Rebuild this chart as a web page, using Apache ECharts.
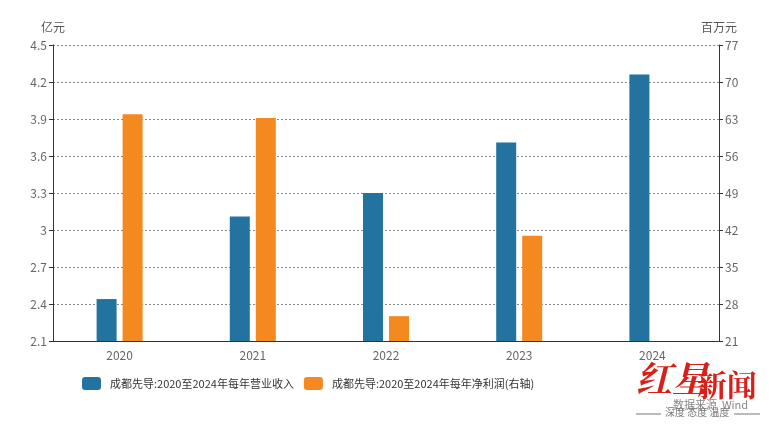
<!DOCTYPE html>
<html>
<head>
<meta charset="utf-8">
<script src="https://cdn.jsdelivr.net/npm/echarts@6/dist/echarts.min.js"></script>
<style>html,body{margin:0;padding:0;background:#fff;}#chart{width:770px;height:430px;}</style>
</head>
<body>
<div id="chart"></div>
<script>
var categories = ['2020', '2021', '2022', '2023', '2024'];
var revenue = [2.44, 3.11, 3.30, 3.71, 4.26];
var netProfit = [63.9, 63.2, 25.7, 40.9, null];
var revenueName = '成都先导:2020至2024年每年营业收入';
var profitName = '成都先导:2020至2024年每年净利润(右轴)';
var leftUnit = '亿元';
var rightUnit = '百万元';

var FONT = '"Noto Sans CJK SC", "Noto Sans", sans-serif';
var chart = echarts.init(document.getElementById('chart'));
var splitStyle = { show: true, lineStyle: { color: '#8a8a8a', type: [2, 2], width: 1 } };
chart.setOption({
  animation: false,
  backgroundColor: '#fff',
  textStyle: { fontFamily: FONT },
  grid: { left: 53, right: 51, top: 45, bottom: 89 },
  legend: {
    left: 82, top: 377, padding: 0,
    itemWidth: 19, itemHeight: 13, itemGap: 10,
    icon: 'roundRect',
    textStyle: { fontSize: 11, color: '#333', fontFamily: FONT, padding: [0, 0, 0, 4] },
    data: [revenueName, profitName]
  },
  xAxis: {
    type: 'category', data: categories,
    axisLine: { lineStyle: { color: '#333' } },
    axisTick: { alignWithLabel: true, length: 4, lineStyle: { color: '#333' } },
    axisLabel: { color: '#666', fontSize: 12, margin: 8 }
  },
  yAxis: [
    {
      type: 'value', min: 2.1, max: 4.5, interval: 0.3,
      name: leftUnit, nameGap: 12, nameTextStyle: { color: '#555', fontSize: 12, align: 'center' },
      axisLine: { show: true, lineStyle: { color: '#333' } },
      axisTick: { show: true, length: 4, lineStyle: { color: '#333' } },
      axisLabel: { color: '#666', fontSize: 12, margin: 6, formatter: function (v) { return String(Math.round(v * 10) / 10); } },
      splitLine: splitStyle
    },
    {
      type: 'value', min: 21, max: 77, interval: 7,
      name: rightUnit, nameGap: 12, nameTextStyle: { color: '#555', fontSize: 12, align: 'center' },
      axisLine: { show: true, lineStyle: { color: '#333' } },
      axisTick: { show: true, length: 4, lineStyle: { color: '#333' } },
      axisLabel: { color: '#666', fontSize: 12, margin: 6 },
      splitLine: { show: false }
    }
  ],
  series: [
    { name: revenueName, type: 'bar', yAxisIndex: 0, data: revenue, barWidth: 20, barGap: '30%', itemStyle: { color: '#22739f' } },
    { name: profitName, type: 'bar', yAxisIndex: 1, data: netProfit, barWidth: 20, barGap: '30%', itemStyle: { color: '#f4891f' } }
  ],
  graphic: [
    { type: 'text', left: 636, top: 360, z: 100, style: { text: '红星', fill: '#d8201a', font: 'italic bold 36px "Noto Serif CJK SC", "Noto Sans CJK SC", serif' } },
    { type: 'text', left: 697, top: 370, z: 100, style: { text: '新闻', fill: '#d8201a', font: 'bold 30px "Noto Serif CJK SC", "Noto Sans CJK SC", serif' } },
    { type: 'text', left: 673, top: 399, z: 101, style: { text: '数据来源  Wind', fill: '#888', font: '11px ' + FONT } },
    { type: 'text', left: 665, top: 407, z: 101, style: { text: '深度 态度 温度', fill: '#777', font: '10px ' + FONT } },
    { type: 'line', z: 101, shape: { x1: 636, y1: 414, x2: 661, y2: 414 }, style: { stroke: '#777', lineWidth: 1 } },
    { type: 'line', z: 101, shape: { x1: 734, y1: 414, x2: 760, y2: 414 }, style: { stroke: '#777', lineWidth: 1 } }
  ]
});
</script>
</body>
</html>
